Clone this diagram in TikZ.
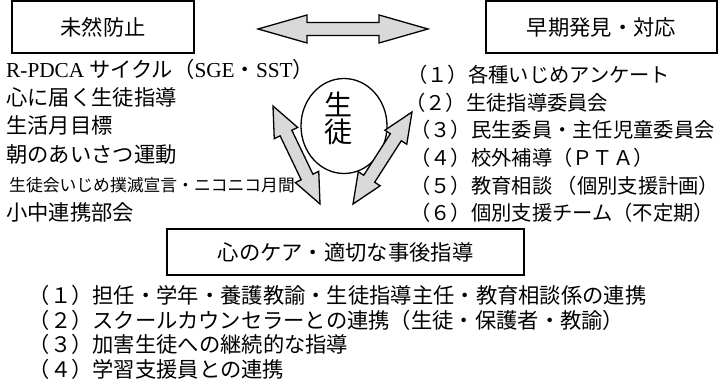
\documentclass[tikz,border=0pt]{standalone}
\usepackage{fontspec}
\setmainfont{Noto Sans CJK JP}
\newfontfamily\latin{Liberation Serif}
\usetikzlibrary{shapes.geometric,calc}

% block double arrow: tip, tip, head length, head half width, shaft half width
\newcommand{\dblarrow}[5]{%
  \coordinate (#1-base) at ($(#1)!#3!(#2)$);
  \coordinate (#2-base) at ($(#2)!#3!(#1)$);
  \draw[dbl arrow] (#1)
    -- ($(#1-base)!#4!90:(#2)$) -- ($(#1-base)!#5!90:(#2)$)
    -- ($(#2-base)!#5!-90:(#1)$) -- ($(#2-base)!#4!-90:(#1)$)
    -- (#2)
    -- ($(#2-base)!#4!90:(#1)$) -- ($(#2-base)!#5!90:(#1)$)
    -- ($(#1-base)!#5!-90:(#2)$) -- ($(#1-base)!#4!-90:(#2)$)
    -- cycle;}

\begin{document}
\begin{tikzpicture}[x=1pt, y=-1pt,
					box/.style={draw, line width=1.5pt, inner sep=0pt,
					            font=\fontsize{21.3}{25}\selectfont,
					            text height=18.7pt, text depth=2.6pt},
					item/.style={anchor=west, inner sep=0pt,
					             font=\fontsize{21.3}{25}\selectfont,
					             text height=18.7pt, text depth=2.6pt},
					right item/.style={item, font=\fontsize{20.3}{24}\selectfont,
					                   text height=17.9pt, text depth=2.5pt},
					small item/.style={item, font=\fontsize{16.8}{20}\selectfont,
					                   text height=14.8pt, text depth=2pt},
					dbl arrow/.style={draw, fill=gray!30, line width=1.3pt}]

  \useasboundingbox (0,0) rectangle (727,387);

  % boxes
  \node[box, minimum width=182pt, minimum height=52pt] (prevent) at (103,27) {未然防止};
  \node[box, minimum width=231pt, minimum height=52pt] (detect) at (601.5,27) {早期発見・対応};
  \node[box, minimum width=357pt, minimum height=46pt, line width=2pt] (care) at (345.5,252) {心のケア・適切な事後指導};

  % student
  \node[ellipse, draw, line width=1.3pt, minimum width=86pt, minimum height=95pt, inner sep=0pt] (student) at (344,126) {};
  \node[align=center, inner sep=0pt, font=\fontsize{28}{27}\selectfont] (studentname) at (338,118.5) {生\\徒};

  % prevention list
  \node[item] (p1) at (6,69) {{\latin R-PDCA} サイクル（{\latin SGE}・{\latin SST}）};
  \node[item] (p2) at (6,97.4) {心に届く生徒指導};
  \node[item] (p3) at (6,125.8) {生活月目標};
  \node[item] (p4) at (6,154.2) {朝のあいさつ運動};
  \node[small item] (p5) at (9,185) {生徒会いじめ撲滅宣言・ニコニコ月間};
  \node[item] (p6) at (6,212) {小中連携部会};

  % detection list
  \node[right item] (d1) at (407,75) {（１）各種いじめアンケート};
  \node[right item] (d2) at (405,102.6) {（２）生徒指導委員会};
  \node[right item] (d3) at (410,130.2) {（３）民生委員・主任児童委員会};
  \node[right item] (d4) at (410,157.8) {（４）校外補導（ＰＴＡ）};
  \node[right item] (d5) at (410,185.4) {（５）教育相談 （個別支援計画）};
  \node[right item] (d6) at (410,213) {（６）個別支援チーム（不定期）};

  % care list
  \node[item] (c1) at (28.5,295) {（１）担任・学年・養護教諭・生徒指導主任・教育相談係の連携};
  \node[item] (c2) at (28.5,320) {（２）スクールカウンセラーとの連携（生徒・保護者・教諭）};
  \node[item] (c3) at (28.5,344.5) {（３）加害生徒への継続的な指導};
  \node[item] (c4) at (28.5,369) {（４）学習支援員との連携};

  % arrows
  \coordinate (top-l) at (258,29);
  \coordinate (top-r) at (428,29);
  \coordinate (left-up) at (273,106);
  \coordinate (left-down) at (320,204);
  \coordinate (right-up) at (412,112);
  \coordinate (right-down) at (353,204);
  \dblarrow{top-l}{top-r}{49pt}{14pt}{6.5pt}
  \dblarrow{left-up}{left-down}{30pt}{13pt}{6.5pt}
  \dblarrow{right-up}{right-down}{30pt}{13pt}{6.5pt}
\end{tikzpicture}
\end{document}
